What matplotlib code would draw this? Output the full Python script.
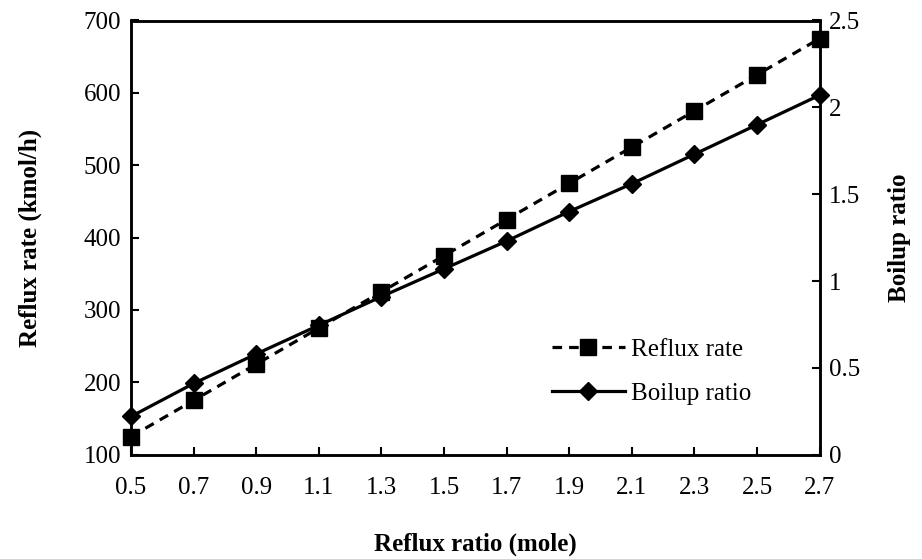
import matplotlib
matplotlib.use("Agg")
import matplotlib.pyplot as plt
import numpy as np

plt.rcParams["font.family"] = ["Liberation Serif", "DejaVu Serif"]

reflux_ratio = ["0.5", "0.7", "0.9", "1.1", "1.3", "1.5",
                "1.7", "1.9", "2.1", "2.3", "2.5", "2.7"]
reflux_rate = [125, 175, 225, 275, 325, 375, 425, 475, 525, 575, 625, 675]
boilup_ratio = [0.22, 0.41, 0.58, 0.745, 0.91, 1.07,
                1.23, 1.40, 1.56, 1.73, 1.90, 2.07]


def main():
    fig = plt.figure(figsize=(9.22, 5.59), dpi=100)
    ax = fig.add_axes([131 / 922, 1 - 454.7 / 559, (819.6 - 131) / 922, (454.7 - 20.5) / 559])
    ax2 = ax.twinx()

    x = np.arange(len(reflux_ratio))
    l1, = ax.plot(x, reflux_rate, color="black", lw=2.3, ls=(0, (3, 2.2)),
                  marker="s", ms=11.5, label="Reflux rate", clip_on=False, zorder=3)
    l2, = ax2.plot(x, boilup_ratio, color="black", lw=2.3, ls="-",
                   marker="D", ms=9, label="Boilup ratio", clip_on=False, zorder=3)

    # 見た目調整
    fs = 18
    ax.set_xlim(0, len(reflux_ratio) - 1)
    ax.set_xticks(x)
    ax.set_xticklabels(reflux_ratio)
    ax.set_ylim(100, 700)
    ax.set_yticks(np.arange(100, 701, 100))
    ax2.set_ylim(0, 2.5)
    ax2.set_yticks([0, 0.5, 1, 1.5, 2, 2.5])
    ax2.set_yticklabels(["0", "0.5", "1", "1.5", "2", "2.5"])

    for a in (ax, ax2):
        a.tick_params(direction="in", length=6, width=1.5, labelsize=fs, pad=7)
        for s in a.spines.values():
            s.set_linewidth(1.8)
    ax.tick_params(axis="x", pad=16)

    ax.set_xlabel("Reflux ratio (mole)", fontsize=fs, fontweight="bold", labelpad=24)
    ax.set_ylabel("Reflux rate (kmol/h)", fontsize=fs, fontweight="bold", labelpad=30)
    ax2.set_ylabel("Boilup ratio", fontsize=fs, fontweight="bold", labelpad=20)

    ax.legend([l1, l2], ["Reflux rate", "Boilup ratio"], loc="center left",
              bbox_to_anchor=(552 / 922, 1 - 371.5 / 559), bbox_transform=fig.transFigure,
              frameon=False, fontsize=fs, handlelength=2.9, handletextpad=0.25,
              labelspacing=0.85, borderpad=0, borderaxespad=0)

    fig.savefig("out.png", dpi=100)
    plt.close(fig)


if __name__ == "__main__":
    main()
